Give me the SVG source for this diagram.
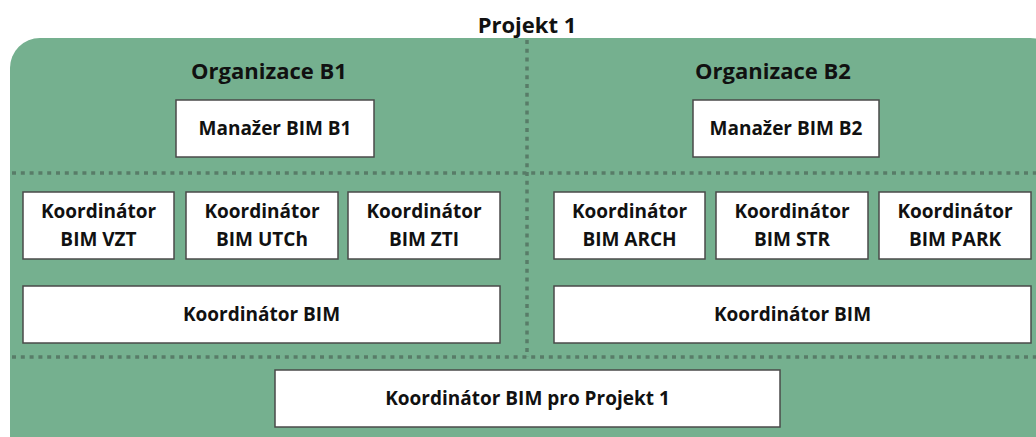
<svg xmlns="http://www.w3.org/2000/svg" width="1036" height="437" viewBox="0 0 1036 437">
  <style>
    .t { font-family: "Open Sans", "Liberation Sans", sans-serif; font-weight: 700; fill: #111; text-anchor: middle; }
    .title { font-size: 22px; }
    .org { font-size: 22px; }
    .lbl { font-size: 19px; }
    .box { fill: #ffffff; stroke: #4a4a4a; stroke-width: 1.5; }
    .div { stroke: #587c68; stroke-width: 3.5; stroke-dasharray: 4 4.8; fill: none; }
  </style>

  <!-- project area -->
  <g id="projekt">
    <rect x="10" y="38" width="1050" height="430" rx="30" ry="30" fill="#75b08f"/>
    <text class="t title" x="527" y="33">Projekt 1</text>
  </g>

  <!-- dotted separators -->
  <g id="connectors">
    <line class="div" x1="12" y1="173" x2="1036" y2="173"/>
    <line class="div" x1="12" y1="357" x2="1036" y2="357"/>
    <line class="div" x1="527" y1="40" x2="527" y2="357"/>
  </g>

  <g id="org-b1">
    <text class="t org" x="269" y="79">Organizace B1</text>
  </g>
  <g id="org-b2">
    <text class="t org" x="773" y="79">Organizace B2</text>
  </g>

  <g id="manazer-b1">
    <rect class="box" x="176" y="100" width="198" height="57"/>
    <text class="t lbl" x="275" y="134.5">Manažer BIM B1</text>
  </g>
  <g id="manazer-b2">
    <rect class="box" x="693" y="100" width="186" height="57"/>
    <text class="t lbl" x="786" y="134.5">Manažer BIM B2</text>
  </g>

  <g id="koord-vzt">
    <rect class="box" x="23" y="192" width="151" height="67"/>
    <text class="t lbl" x="98.5" y="218">Koordinátor</text>
    <text class="t lbl" x="98.5" y="245.5">BIM VZT</text>
  </g>
  <g id="koord-utch">
    <rect class="box" x="186" y="192" width="152" height="67"/>
    <text class="t lbl" x="262" y="218">Koordinátor</text>
    <text class="t lbl" x="262" y="245.5">BIM UTCh</text>
  </g>
  <g id="koord-zti">
    <rect class="box" x="348" y="192" width="152" height="67"/>
    <text class="t lbl" x="424" y="218">Koordinátor</text>
    <text class="t lbl" x="424" y="245.5">BIM ZTI</text>
  </g>
  <g id="koord-b1">
    <rect class="box" x="23" y="286" width="477" height="57"/>
    <text class="t lbl" x="261.5" y="320.5">Koordinátor BIM</text>
  </g>

  <g id="koord-arch">
    <rect class="box" x="554" y="192" width="151" height="67"/>
    <text class="t lbl" x="629.5" y="218">Koordinátor</text>
    <text class="t lbl" x="629.5" y="245.5">BIM ARCH</text>
  </g>
  <g id="koord-str">
    <rect class="box" x="716" y="192" width="152" height="67"/>
    <text class="t lbl" x="792" y="218">Koordinátor</text>
    <text class="t lbl" x="792" y="245.5">BIM STR</text>
  </g>
  <g id="koord-park">
    <rect class="box" x="879" y="192" width="152" height="67"/>
    <text class="t lbl" x="955" y="218">Koordinátor</text>
    <text class="t lbl" x="955" y="245.5">BIM PARK</text>
  </g>
  <g id="koord-b2">
    <rect class="box" x="554" y="286" width="477" height="57"/>
    <text class="t lbl" x="792.5" y="320.5">Koordinátor BIM</text>
  </g>

  <g id="koord-projekt">
    <rect class="box" x="275" y="370" width="505" height="57"/>
    <text class="t lbl" x="527.5" y="404.5">Koordinátor BIM pro Projekt 1</text>
  </g>
</svg>
